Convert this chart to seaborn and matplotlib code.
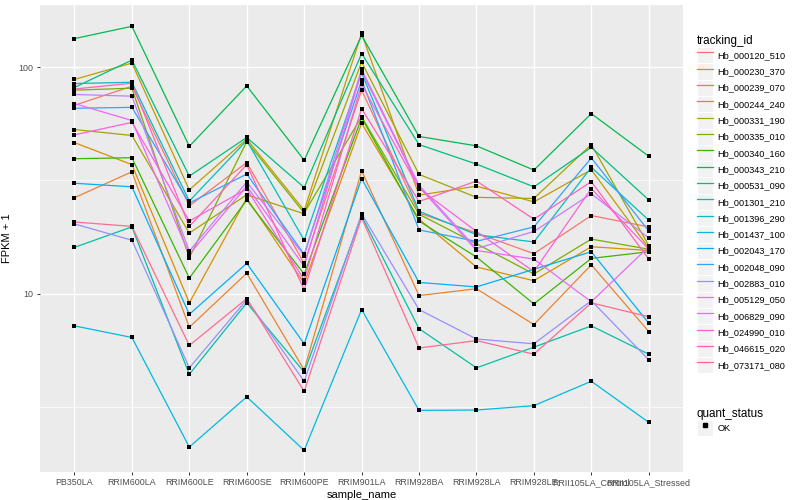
import pandas as pd
import matplotlib
matplotlib.use("Agg")
import matplotlib.pyplot as plt
import seaborn as sns
from matplotlib.lines import Line2D
from matplotlib.patches import Rectangle
from matplotlib.legend_handler import HandlerLine2D
from matplotlib.ticker import FixedLocator, NullFormatter

# sample order on the x axis
samples = ["PB350LA", "RRIM600LA", "RRIM600LE", "RRIM600SE", "RRIM600PE",
           "RRIM901LA", "RRIM928BA", "RRIM928LA", "RRIM928LE",
           "RRII105LA_Control", "RRII105LA_Stressed"]

tracking_ids = ["Hb_000120_510", "Hb_000230_370", "Hb_000239_070", "Hb_000244_240",
                "Hb_000331_190", "Hb_000335_010", "Hb_000340_160", "Hb_000343_210",
                "Hb_000531_090", "Hb_001301_210", "Hb_001396_290", "Hb_001437_100",
                "Hb_002043_170", "Hb_002048_090", "Hb_002883_010", "Hb_005129_050",
                "Hb_006829_090", "Hb_024990_010", "Hb_046615_020", "Hb_073171_080"]

# ggplot hue palette, 20 levels
palette = ["#F8766D", "#EA8331", "#D89000", "#C09B00", "#A3A500", "#7CAE00",
           "#39B600", "#00BB4E", "#00BF7D", "#00C1A3", "#00BFC4", "#00BAE0",
           "#00B0F6", "#35A2FF", "#9590FF", "#C77CFF", "#E76BF3", "#FA62DB",
           "#FF62BC", "#FF6C91"]

# FPKM + 1 per gene (same order as samples)
hb_000120_510 = [67.8, 82.3, 24.4, 37.9, 13.6, 79.1, 22.7, 18.5, 15.0, 22.1, 19.7]
hb_000230_370 = [26.5, 34.5, 7.1, 12.3, 4.6, 34.8, 9.8, 10.5, 7.3, 13.4, 6.8]
hb_000239_070 = [46.4, 37.1, 9.1, 26.4, 11.1, 56.5, 21.3, 13.1, 11.4, 16.1, 15.5]
hb_000244_240 = [88.2, 104.2, 28.7, 48.1, 23.3, 140.9, 27.2, 29.8, 25.4, 35.2, 15.9]
hb_000331_190 = [53.0, 49.9, 18.5, 27.3, 22.5, 105.2, 33.6, 26.6, 26.3, 45.5, 16.3]
hb_000335_010 = [79.1, 80.7, 14.4, 46.9, 22.7, 60.4, 22.4, 16.6, 12.2, 17.4, 15.7]
hb_000340_160 = [39.4, 39.8, 11.7, 25.9, 12.2, 59.7, 20.9, 14.5, 9.0, 14.3, 15.3]
hb_000343_210 = [133.6, 151.4, 44.7, 82.6, 38.8, 138.0, 49.4, 44.9, 35.1, 62.3, 40.4]
hb_000531_090 = [81.3, 107.4, 33.0, 48.9, 29.4, 114.8, 45.5, 37.3, 29.6, 44.2, 25.9]
hb_001301_210 = [16.0, 19.7, 4.4, 9.1, 4.5, 22.0, 7.0, 4.7, 5.8, 7.2, 5.4]
hb_001396_290 = [84.6, 85.7, 25.6, 47.4, 17.2, 94.3, 23.1, 18.2, 16.9, 36.1, 21.1]
hb_001437_100 = [7.2, 6.4, 2.1, 3.5, 2.03, 8.5, 3.05, 3.06, 3.2, 4.1, 2.7]
hb_002043_170 = [30.7, 29.6, 8.1, 13.6, 6.0, 32.2, 11.2, 10.7, 12.8, 15.3, 7.4]
hb_002048_090 = [65.8, 66.4, 25.1, 33.7, 14.9, 87.5, 19.1, 17.0, 19.7, 39.7, 18.9]
hb_002883_010 = [20.3, 17.2, 4.7, 9.4, 4.1, 22.5, 8.5, 6.3, 6.0, 9.3, 5.1]
hb_005129_050 = [75.7, 74.4, 15.4, 31.1, 14.7, 97.7, 30.1, 15.8, 18.8, 27.6, 17.6]
hb_006829_090 = [69.0, 58.1, 14.9, 29.8, 13.2, 95.9, 29.6, 15.5, 14.2, 9.2, 16.1]
hb_024990_010 = [50.2, 57.0, 20.9, 29.0, 11.5, 83.8, 29.1, 18.8, 12.5, 29.1, 15.7]
hb_046615_020 = [80.0, 84.9, 19.8, 37.1, 10.4, 65.5, 25.5, 31.4, 21.3, 31.2, 14.2]
hb_073171_080 = [20.7, 19.8, 5.9, 9.5, 3.7, 21.6, 5.75, 6.2, 5.4, 9.1, 7.9]

series = [hb_000120_510, hb_000230_370, hb_000239_070, hb_000244_240, hb_000331_190,
          hb_000335_010, hb_000340_160, hb_000343_210, hb_000531_090, hb_001301_210,
          hb_001396_290, hb_001437_100, hb_002043_170, hb_002048_090, hb_002883_010,
          hb_005129_050, hb_006829_090, hb_024990_010, hb_046615_020, hb_073171_080]

rows = []
for tid, vals in zip(tracking_ids, series):
    for s, v in zip(samples, vals):
        rows.append({"tracking_id": tid, "sample_name": s, "FPKM": v, "quant_status": "OK"})
df = pd.DataFrame(rows)

plt.rcParams["font.family"] = ["Liberation Sans", "DejaVu Sans"]

fig = plt.figure(figsize=(8, 5), dpi=100)
ax = fig.add_axes([0.05, 0.056, 0.804, 0.934])
ax.set_facecolor("#EBEBEB")

sns.lineplot(data=df, x="sample_name", y="FPKM", hue="tracking_id",
             hue_order=tracking_ids, palette=palette, estimator=None,
             errorbar=None, linewidth=0.9, legend=False, ax=ax, zorder=2)
sns.scatterplot(data=df, x="sample_name", y="FPKM", color="black", marker="s",
                s=10, linewidth=0, legend=False, ax=ax, zorder=3)

ax.set_yscale("log")
ax.set_ylim(1.63, 188)
ax.set_xlim(-0.6, len(samples) - 0.4)
ax.yaxis.set_major_locator(FixedLocator([10, 100]))
ax.set_yticklabels(["10", "100"])
ax.yaxis.set_minor_locator(FixedLocator([10 ** 0.5, 10 ** 1.5]))
ax.yaxis.set_minor_formatter(NullFormatter())
ax.set_xticks(range(len(samples)))
ax.set_xticklabels(samples)

ax.grid(True, which="major", color="white", linewidth=1.0)
ax.grid(True, which="minor", axis="y", color="white", linewidth=0.5)
ax.set_axisbelow(True)
for sp in ax.spines.values():
    sp.set_visible(False)
ax.tick_params(which="major", length=2.5, width=0.7, color="#333333",
               labelcolor="#4D4D4D", labelsize=6.4, pad=2)
ax.tick_params(which="minor", length=0)
ax.set_xlabel("sample_name", fontsize=8, labelpad=2)
ax.set_ylabel("FPKM + 1", fontsize=8, labelpad=5)


class KeyHandler(HandlerLine2D):
    def create_artists(self, legend, orig_handle, xdescent, ydescent, width,
                       height, fontsize, trans):
        bg = Rectangle((-xdescent, -ydescent), width, height, facecolor="#F2F2F2",
                       edgecolor="white", linewidth=0.8, transform=trans)
        arts = super().create_artists(legend, orig_handle, xdescent, ydescent,
                                      width, height, fontsize, trans)
        return [bg] + arts


hue_handles = [Line2D([], [], color=c, linewidth=0.9) for c in palette]
leg1 = fig.legend(hue_handles, tracking_ids, title="tracking_id",
                  loc="upper left", bbox_to_anchor=(0.871, 0.93),
                  frameon=False, fontsize=6.6, title_fontsize=8.4,
                  handlelength=1.75, handleheight=2.36, labelspacing=0.0,
                  handletextpad=0.5, borderpad=0, borderaxespad=0,
                  handler_map={Line2D: KeyHandler()})
leg1._legend_box.align = "left"

ok_handle = [Line2D([], [], color="black", marker="s", markersize=2.6, linestyle="none")]
leg2 = fig.legend(ok_handle, ["OK"], title="quant_status",
                  loc="upper left", bbox_to_anchor=(0.871, 0.184),
                  frameon=False, fontsize=6.6, title_fontsize=8.4,
                  handlelength=1.75, handleheight=2.36, labelspacing=0.0,
                  handletextpad=0.5, borderpad=0, borderaxespad=0,
                  handler_map={Line2D: KeyHandler()})
leg2._legend_box.align = "left"

fig.savefig("out.png", dpi=100)
